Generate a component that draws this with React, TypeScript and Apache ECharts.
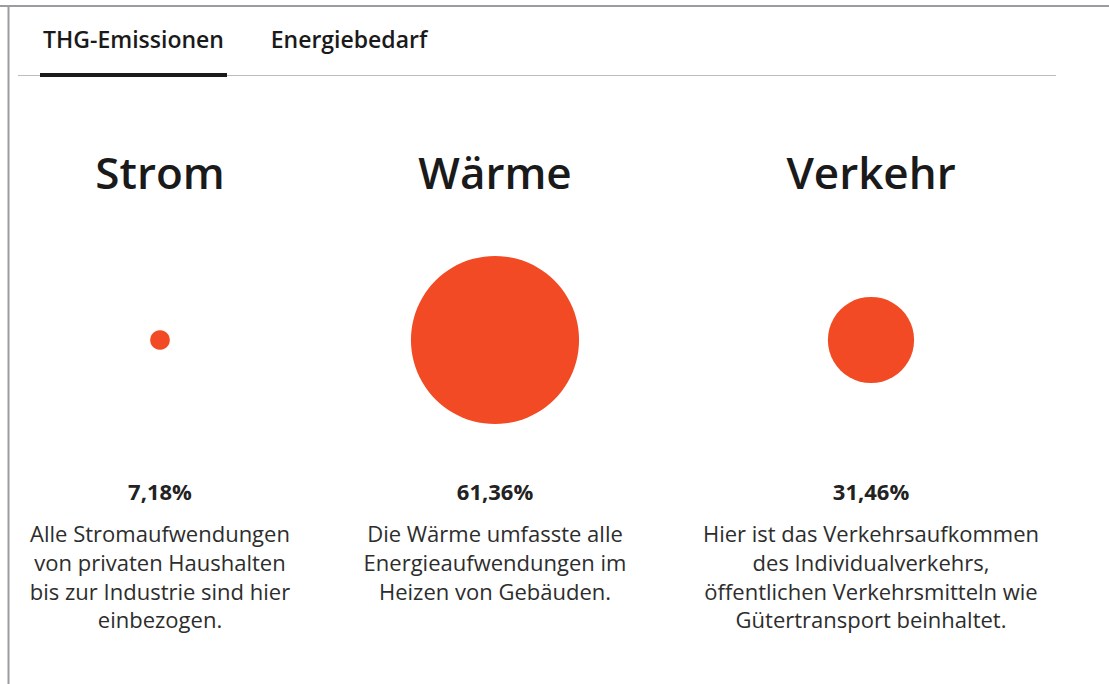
import React, { useEffect, useRef } from "react";
import * as echarts from "echarts";

const categories = ["Strom", "Wärme", "Verkehr"];
const shares = [7.18, 61.36, 31.46];
const descriptions = [
  ["Alle Stromaufwendungen", "von privaten Haushalten", "bis zur Industrie sind hier", "einbezogen."],
  ["Die Wärme umfasste alle", "Energieaufwendungen im", "Heizen von Gebäuden."],
  ["Hier ist das Verkehrsaufkommen", "des Individualverkehrs,", "öffentlichen Verkehrsmitteln wie", "Gütertransport beinhaltet."],
];
const tabs = ["THG-Emissionen", "Energiebedarf"];

const W = 1109;
const H = 684;
const COL_CENTERS = [160, 495, 871];
const DIAMETER_PER_PERCENT = 2.74;
const FONT = "'Open Sans', 'Noto Sans', sans-serif";
const ACCENT = "#f24a24";

const fmt = (v: number) => v.toFixed(2).replace(".", ",") + "%";

export default function App() {
  const ref = useRef<HTMLDivElement>(null);
  useEffect(() => {
    document.body.style.margin = "0";
    const chart = echarts.init(ref.current!, null, { renderer: "svg" });
    const grids = categories.map((_, i) => ({
      left: COL_CENTERS[i] - 150,
      top: 240,
      width: 300,
      height: 200,
    }));
    const graphic: any[] = [
      { type: "line", shape: { x1: 0, y1: 6, x2: W, y2: 6 }, style: { stroke: "#9b9ba0", lineWidth: 2 } },
      { type: "line", shape: { x1: 8.5, y1: 5, x2: 8.5, y2: H }, style: { stroke: "#9b9ba0", lineWidth: 2 } },
      { type: "line", shape: { x1: 18, y1: 75.5, x2: 1056, y2: 75.5 }, style: { stroke: "#bdbdbd", lineWidth: 1 } },
      { type: "rect", shape: { x: 40, y: 73, width: 187, height: 4 }, style: { fill: "#1a1a1a" } },
      {
        type: "text", x: 133.5, y: 39,
        style: { text: tabs[0], font: `600 23px ${FONT}`, fill: "#1a1a1a", textAlign: "center", textVerticalAlign: "middle" },
      },
      {
        type: "text", x: 349, y: 39,
        style: { text: tabs[1], font: `600 23px ${FONT}`, fill: "#1a1a1a", textAlign: "center", textVerticalAlign: "middle" },
      },
    ];
    categories.forEach((c, i) => {
      const cx = COL_CENTERS[i];
      graphic.push({
        type: "text", x: cx, y: 172,
        style: { text: c, font: `600 44px ${FONT}`, fill: "#1a1a1a", textAlign: "center", textVerticalAlign: "middle" },
      });
      graphic.push({
        type: "text", x: cx, y: 491,
        style: { text: fmt(shares[i]), font: `700 22px ${FONT}`, fill: "#222222", textAlign: "center", textVerticalAlign: "middle" },
      });
      graphic.push({
        type: "text", x: cx, y: 519,
        style: {
          text: descriptions[i].join("\n"), font: `400 22px ${FONT}`, lineHeight: 28.7,
          fill: "#2d2d2d", textAlign: "center", textVerticalAlign: "top",
        },
      });
    });
    chart.setOption({
      animation: false,
      grid: grids,
      xAxis: categories.map((c, i) => ({ gridIndex: i, type: "category", data: [c], show: false })),
      yAxis: categories.map((_, i) => ({ gridIndex: i, type: "value", min: 0, max: 1, show: false })),
      series: categories.map((c, i) => ({
        type: "scatter",
        xAxisIndex: i,
        yAxisIndex: i,
        data: [[c, 0.5]],
        symbolSize: shares[i] * DIAMETER_PER_PERCENT,
        itemStyle: { color: ACCENT, opacity: 1 },
        silent: true,
      })),
      graphic,
    });
    return () => chart.dispose();
  }, []);
  return <div ref={ref} style={{ width: W, height: H, background: "#fff" }} />;
}
